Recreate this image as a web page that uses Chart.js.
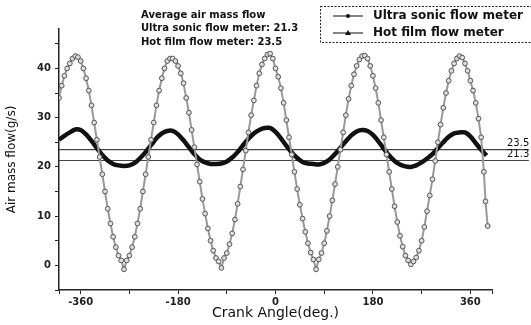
<!DOCTYPE html>
<html>
<head>
<meta charset="utf-8">
<script src="https://cdn.jsdelivr.net/npm/chart.js@4.4.1/dist/chart.umd.min.js"></script>
<style>
html,body{margin:0;padding:0;background:#fff}
#wrap{width:531px;height:325px}
</style>
</head>
<body>
<div id="wrap"><canvas id="graf"></canvas></div>
<script>
// crank angle (deg.) and air mass flow (g/s)
var usAngles = [-400,-395,-390,-385,-380,-375,-370,-365,-360,-355,-350,-345,-340,-335,-330,-325,-320,-315,-310,-305,
    -300,-295,-290,-285,-280,-275,-270,-265,-260,-255,-250,-245,-240,-235,-230,-225,-220,-215,-210,-205,
    -200,-195,-190,-185,-180,-175,-170,-165,-160,-155,-150,-145,-140,-135,-130,-125,-120,-115,-110,-105,
    -100,-95,-90,-85,-80,-75,-70,-65,-60,-55,-50,-45,-40,-35,-30,-25,-20,-15,-10,-5,
    0,5,10,15,20,25,30,35,40,45,50,55,60,65,70,75,80,85,90,95,
    100,105,110,115,120,125,130,135,140,145,150,155,160,165,170,175,180,185,190,195,
    200,205,210,215,220,225,230,235,240,245,250,255,260,265,270,275,280,285,290,295,
    300,305,310,315,320,325,330,335,340,345,350,355,360,365,370,375,380,385,388,392];
var usFlow = [34,36.5,38.5,40,41,42,42.5,42.3,41.5,40,38,35.5,32.5,29,25.5,22,18.5,15,11.5,8.5,
    5.8,3.7,2,1,-0.8,1,2,3.7,5.8,8.5,11.5,15,18.5,22,25.5,29,32.5,35.5,38,40,
    41.5,42,42,41.5,40.5,39,37,34,31,27.5,24,20.5,17,13.5,10.5,7.5,5,3,1.5,0.8,
    -0.5,1.5,2.5,4.3,6.5,9.3,12.5,16,19.5,23.3,27,30.5,33.5,36.5,39,40.8,42,42.8,43,42,
    40,38.3,36,33,29.5,26,22.5,19,15.5,12.3,9.5,6.8,4.5,2.6,1.2,-0.8,1.2,2.5,4.5,7,
    10,13.2,16.5,20,23.5,27,30.5,33.8,36.5,38.8,40.5,41.8,42.5,42.6,42,40.5,38.5,36,33,29.5,
    26,22.5,19,15.5,12,8.8,6,3.8,2,1,0.2,0.8,1.6,3,5,7.8,11,14.2,17.5,21.2,
    25,28.6,32,35,37.5,39.5,41,42,42.5,42.2,41,39.5,37.5,35.5,33,29.8,26,19,13,8];

var hfAngles = [-400,-390,-380,-370,-360,-350,-340,-330,-320,-310,-300,-290,-280,-270,-260,-250,-240,-230,-220,-210,
    -200,-190,-180,-170,-160,-150,-140,-130,-120,-110,-100,-90,-80,-70,-60,-50,-40,-30,-20,-10,
    0,10,20,30,40,50,60,70,80,90,100,110,120,130,140,150,160,170,180,190,
    200,210,220,230,240,250,260,270,280,290,300,310,320,330,340,350,360,370,380,390];
var hfFlow = [25.5,26.3,27,27.6,27.5,26.6,25.3,23.8,22.4,21.3,20.6,20.3,20.2,20.3,20.8,21.8,23,24.4,25.8,26.8,
    27.3,27.3,26.6,25.4,24,22.6,21.5,20.9,20.6,20.6,20.7,21.1,21.9,23,24.4,25.7,26.8,27.5,27.9,27.9,
    27.1,25.8,24.3,22.9,21.8,21,20.7,20.6,20.5,20.8,21.5,22.6,23.9,25.2,26.4,27.2,27.5,27.3,26.5,25.2,
    23.7,22.3,21.2,20.5,20.1,20,20.3,20.9,21.7,22.6,23.8,25,26.1,26.8,27,27,26.2,24.8,23.5,22.3];

var averages = [23.5, 21.3];
var averageLabels = ['23.5', '21.3'];
var seriesNames = ['Ultra sonic flow meter', 'Hot film flow meter'];
var notes = ['Average air mass flow', 'Ultra sonic flow meter: 21.3', 'Hot film flow meter: 23.5'];

var xTicks = [-400,-360,-270,-180,-90,0,90,180,270,360,400];
var xLabels = [-360,-180,0,180,360];
var yTicks = [-5,0,5,10,15,20,25,30,35,40,45];
var yLabels = [0,10,20,30,40];

function pts(xs, ys) {
    return xs.map(function (x, i) { return {x: x, y: ys[i]}; });
}

var font = '"DejaVu Sans", Arial, sans-serif';

var overlay = {
    id: 'overlay',
    afterDraw: function (chart) {
        var c = chart.ctx, ys = chart.scales.y;
        c.save();
        c.fillStyle = '#111';
        c.textBaseline = 'middle';
        c.font = 'bold 10px ' + font;
        notes.forEach(function (t, i) { c.fillText(t, 141, 15 + i * 13.5); });

        // legend
        c.strokeStyle = '#222';
        c.lineWidth = 1;
        c.setLineDash([2, 1.5]);
        c.strokeRect(320.5, 6.5, 220, 36);
        c.setLineDash([]);
        c.font = 'bold 12px ' + font;
        [16, 33].forEach(function (yy, i) {
            c.strokeStyle = '#333';
            c.lineWidth = 1.2;
            c.beginPath(); c.moveTo(333, yy); c.lineTo(363, yy); c.stroke();
            c.fillStyle = '#111';
            c.beginPath();
            if (i === 0) { c.arc(348, yy, 2, 0, Math.PI * 2); }
            else { c.moveTo(348, yy - 3); c.lineTo(351, yy + 2); c.lineTo(345, yy + 2); c.closePath(); }
            c.fill();
            c.fillText(seriesNames[i], 373, yy);
        });

        // labels of the average lines
        c.font = '10px ' + font;
        averages.forEach(function (v, i) {
            c.fillText(averageLabels[i], 507, ys.getPixelForValue(v) - 6);
        });
        c.restore();
    }
};

var ctx = document.getElementById('graf').getContext('2d');
var graf = new Chart(ctx, {
    type: 'line',
    data: {
        datasets: [{
            label: seriesNames[0],
            data: pts(usAngles, usFlow),
            borderColor: '#999',
            borderWidth: 2,
            pointRadius: 2.4,
            pointBorderColor: '#555',
            pointBackgroundColor: '#ddd',
            pointBorderWidth: 1,
            tension: 0
        }, {
            label: seriesNames[1],
            data: pts(hfAngles, hfFlow),
            borderColor: '#111',
            borderWidth: 4.5,
            pointStyle: 'triangle',
            pointRadius: 0,
            tension: 0.3
        }, {
            label: 'avg hot film',
            data: [{x: -400, y: averages[0]}, {x: 468, y: averages[0]}],
            borderColor: '#444',
            borderWidth: 1.2,
            pointRadius: 0,
            clip: false
        }, {
            label: 'avg ultrasonic',
            data: [{x: -400, y: averages[1]}, {x: 468, y: averages[1]}],
            borderColor: '#444',
            borderWidth: 1.2,
            pointRadius: 0,
            clip: false
        }]
    },
    options: {
        responsive: true,
        maintainAspectRatio: false,
        animation: false,
        layout: {padding: {top: 29, right: 39, bottom: 2, left: 0}},
        plugins: {legend: {display: false}, tooltip: {enabled: false}},
        scales: {
            x: {
                type: 'linear',
                min: -400,
                max: 400,
                afterBuildTicks: function (s) { s.ticks = xTicks.map(function (v) { return {value: v}; }); },
                afterFit: function (s) { s.height = 33; },
                grid: {drawOnChartArea: false, tickLength: 4, color: '#222'},
                border: {color: '#222', width: 1.5},
                ticks: {
                    color: '#222', padding: 2, maxRotation: 0, autoSkip: false,
                    font: {family: font, size: 10, weight: 'bold'},
                    callback: function (v) { return xLabels.indexOf(v) >= 0 ? String(v) : ''; }
                },
                title: {display: true, text: 'Crank Angle(deg.)', color: '#111',
                    font: {family: font, size: 14}, padding: {top: 0, bottom: 1}}
            },
            y: {
                min: -5,
                max: 48,
                afterBuildTicks: function (s) { s.ticks = yTicks.map(function (v) { return {value: v}; }); },
                afterFit: function (s) { s.width = 59; },
                grid: {drawOnChartArea: false, tickLength: 4, color: '#222'},
                border: {color: '#222', width: 1.5},
                ticks: {
                    color: '#222', padding: 4, autoSkip: false,
                    font: {family: font, size: 10, weight: 'bold'},
                    callback: function (v) { return yLabels.indexOf(v) >= 0 ? String(v) : ''; }
                },
                title: {display: true, text: 'Air mass flow(g/s)', color: '#111',
                    font: {family: font, size: 12}, padding: {top: 5, bottom: 0}}
            }
        }
    },
    plugins: [overlay]
});
</script>
</body>
</html>
